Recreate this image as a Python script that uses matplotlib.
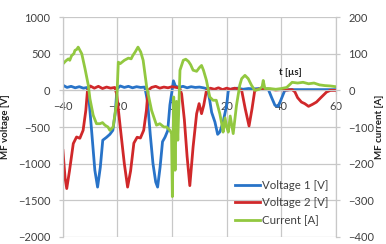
import matplotlib
matplotlib.use("Agg")
import matplotlib.pyplot as plt

# Voltage 1 [V]
t_v1 = [-40, -38.5, -37, -35.5, -34, -32.5, -31, -30.5, -29.5, -28.3, -27.3, -26.3, -25.4, -24, -22.8, -21.7,
        -20.8, -20.2, -19, -17.5, -16, -14.5, -13, -11.5, -10, -9, -8, -7, -6, -5.3, -4.4, -3.5, -2.6, -1.6,
        -0.8, 0, 0.5, 1.2, 2.5, 4, 5.5, 7, 8.5, 10, 11.5, 13, 13.8, 14.5, 15.7, 16.7, 17.5, 18.7, 20, 20.6,
        22, 24, 26, 28, 30, 32, 34, 35.2, 36.5, 37.7, 38.9, 40, 41.3, 43, 46, 50, 54, 58, 60]
v1 = [70, 40, 55, 35, 50, 30, 40, -100, -545, -1090, -1320, -1050, -680, -640, -600, -545,
      -300, 20, 60, 40, 55, 35, 50, 40, 45, -150, -600, -1000, -1250, -1320, -1050, -700, -640, -550,
      -200, 0, 130, 60, 40, 55, 35, 50, 40, 45, 35, 20, -136, -300, -432, -600, -568, -432, -204, 0,
      20, 30, 15, 25, 20, 25, 15, 20, -100, -204, -220, -120, 0, 10, 10, 10, 10, 10, 10]

# Voltage 2 [V]
t_v2 = [-40, -39.2, -38.6, -37.6, -36.2, -35, -33.8, -32.6, -31.6, -31, -30, -28.5, -27, -25.5, -24, -22.5,
        -21, -20.3, -19, -17.5, -16.3, -15.2, -14, -12.8, -11.6, -10.4, -9.4, -8.8, -7.5, -6, -4.5, -3,
        -1.5, 0, 1.5, 2.8, 3.5, 4.5, 5.5, 6.5, 7.7, 9.0, 9.9, 10.8, 11.6, 12.6, 14, 15.5, 17, 18.5, 20,
        21.5, 23, 24.5, 25.5, 26.8, 28.2, 29.3, 30.3, 32, 34, 36, 38, 40, 42, 44, 45, 46, 47.4, 48.6, 50,
        51.5, 52.9, 54.5, 56.6, 58, 60]
v2 = [-820, -1200, -1340, -1100, -726, -636, -654, -545, -272, 0, 60, 30, 55, 25, 45, 30,
      40, -50, -500, -1000, -1320, -1100, -720, -640, -650, -545, -272, 0, 40, 55, 30, 45,
      35, 50, 40, 30, -50, -400, -900, -1300, -772, -318, -181, -318, -204, 0, 30, 15, 35, 10, 30,
      15, 30, 15, 0, -250, -486, -250, 0, 20, 10, 15, 5, 10, 5, 10, -20, -100, -160, -181, -218,
      -190, -160, -100, -23, 0, 0]

# Current [A]
t_i = [-39.9, -39, -38, -37.5, -36.8, -36, -35.6, -34.9, -34.4, -33.1, -31.9, -30.7, -30.1, -28.9, -27.7,
       -26.4, -25.5, -24.6, -23.5, -22.8, -21.6, -20.3, -19.7, -19, -17.5, -16, -15, -14.4, -13.5, -12.5,
       -11.5, -10.6, -9.3, -7.5, -5.7, -4.5, -3, -2, -0.8, -0.2, 0.1, 0.6, 1.1, 1.6, 2.1, 2.9, 4.1, 5, 6,
       6.8, 7.7, 9, 10, 10.8, 11.5, 12.6, 13.8, 15, 16.2, 17.5, 18.2, 18.7, 19.4, 20.0, 20.6, 21.3, 22.4,
       23.6, 24.8, 25.5, 26.7, 27.9, 29.1, 30.3, 32, 33, 33.4, 34, 35.8, 38, 40, 42, 43, 44, 46, 48, 50,
       52, 54, 56, 58, 60]
cur = [73, 80, 86, 82, 95, 100, 109, 112, 118, 100, 59, 14, -23, -68, -91,
       -91, -88, -95, -100, -109, -100, -32, 77, 73, 82, 88, 86, 95, 105, 118,
       105, 82, 9, -55, -95, -91, -100, -100, -109, -118, -290, -18, -218, -30, -136, 55, 82, 85, 79,
       70, 55, 52, 62, 68, 55, 27, -18, -27, -27, -64, -91, -114, -75, -100, -114, -70, -118,
       -41, 14, 32, 41, 32, 14, 0, 3, 10, 27, 5, 5, 3, 5, 8, 15, 22, 20, 22, 18,
       20, 15, 13, 12, 10]

x_ticks = [-40, -20, 0, 20, 40, 60]
v_ticks = [-2000, -1500, -1000, -500, 0, 500, 1000]
i_ticks = [-400, -300, -200, -100, 0, 100, 200]

plt.rcParams['font.family'] = ['Lato', 'DejaVu Sans']
txt = '#404040'
gridc = '#c8c8c8'

fig = plt.figure(figsize=(3.86, 2.44), dpi=100)
ax = fig.add_axes([0.163, 0.029, 0.707, 0.901])
ax2 = ax.twinx()

l1, = ax.plot(t_v1, v1, color='#2873c8', lw=2, label='Voltage 1 [V]')
l2, = ax.plot(t_v2, v2, color='#d0282a', lw=2, label='Voltage 2 [V]')
l3, = ax2.plot(t_i, cur, color='#92c840', lw=2, label='Current [A]')

ax.set_xlim(-40, 60)
ax.set_ylim(-2000, 1000)
ax2.set_ylim(-400, 200)
ax.set_xticks(x_ticks)
ax.set_yticks(v_ticks)
ax2.set_yticks(i_ticks)

ax.grid(True, color=gridc, lw=0.9)
ax.set_axisbelow(True)
for a in (ax, ax2):
    a.spines['top'].set_visible(False)
    a.spines['left'].set_color(gridc)
    a.spines['right'].set_color(gridc)
    a.tick_params(colors=gridc, labelcolor=txt, labelsize=8, length=3, width=0.9)
ax.spines['bottom'].set_position(('data', 0))
ax.spines['bottom'].set_color(gridc)
ax2.spines['bottom'].set_visible(False)
ax.tick_params(axis='x', pad=5)
ax.tick_params(axis='y', pad=6)
ax2.tick_params(axis='y', pad=6)

ax.set_ylabel('MF voltage [V]', fontsize=7, fontweight='bold', color='#202020', labelpad=6)
ax2.set_ylabel('MF current [A]', fontsize=7, fontweight='bold', color='#202020', labelpad=0.5, rotation=90)
ax.text(43.2, 245, 't [µs]', fontsize=7, fontweight='bold', color='#202020', ha='center', va='center')

leg = ax2.legend(handles=[l1, l2, l3], loc='lower left', bbox_to_anchor=(0.613, 0.03), frameon=False,
                 fontsize=8.3, handlelength=2.2, labelspacing=0.55, handletextpad=0.2, borderaxespad=0)
for t in leg.get_texts():
    t.set_color(txt)

fig.savefig('out.png', dpi=100)
